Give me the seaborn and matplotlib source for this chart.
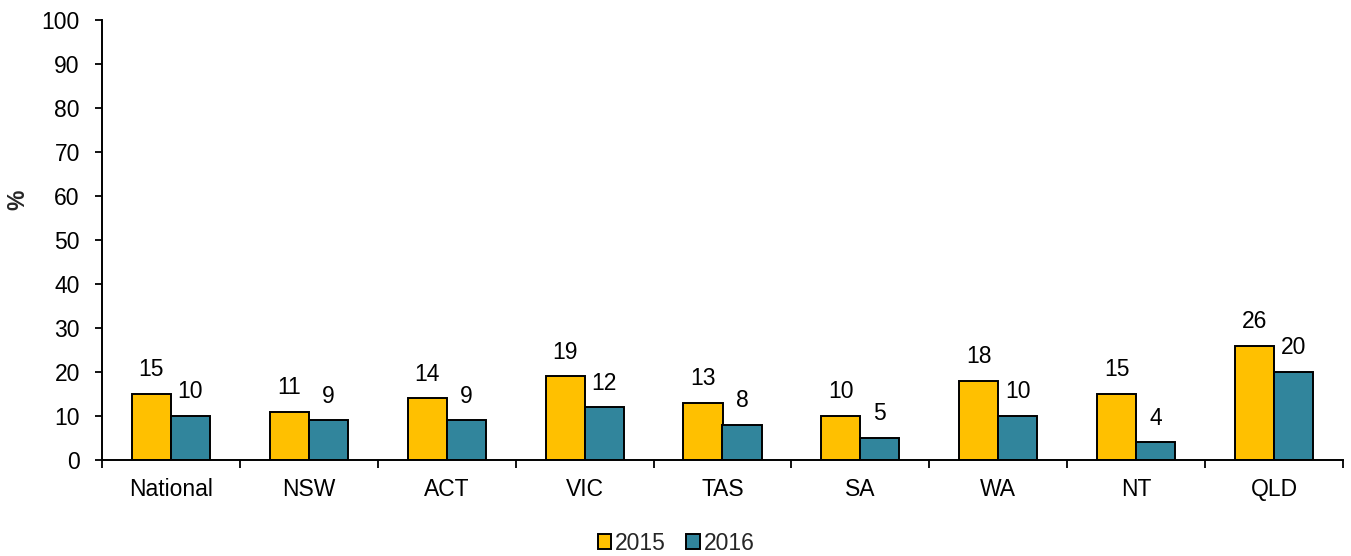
import matplotlib
matplotlib.use("Agg")
import matplotlib.pyplot as plt
import seaborn as sns
import pandas as pd
import numpy as np
from matplotlib.ticker import FixedLocator

categories = ["National", "NSW", "ACT", "VIC", "TAS", "SA", "WA", "NT", "QLD"]
years = ["2015", "2016"]
values_2015 = [15, 11, 14, 19, 13, 10, 18, 15, 26]
values_2016 = [10, 9, 9, 12, 8, 5, 10, 4, 20]
colors = ["#FFC000", "#31859C"]

sns.set_theme(style="white")
plt.rcParams['font.family'] = ['Liberation Sans', 'DejaVu Sans']
FS = 16.5

df = pd.DataFrame({
    "Region": categories * 2,
    "Year": [years[0]] * len(categories) + [years[1]] * len(categories),
    "Value": values_2015 + values_2016,
})

fig = plt.figure(figsize=(13.51, 5.56), dpi=100)
ax = fig.add_axes([102/1351, 1 - 460/556, (1343-102)/1351, (460-20)/556])

sns.barplot(data=df, x="Region", y="Value", hue="Year", order=categories,
            hue_order=years, palette=colors, width=0.566, gap=0,
            edgecolor="black", linewidth=1.4, ax=ax, saturation=1)

for cont in ax.containers:
    ax.bar_label(cont, fmt="%g", padding=9, fontsize=FS, color="black")

ax.set_ylim(0, 100)
ax.set_xlim(-0.5, len(categories) - 0.5)
ax.set_yticks(np.arange(0, 101, 10))
ax.tick_params(axis="y", labelsize=FS, length=5, width=1.3, direction="out",
               left=True, colors="black", pad=11)
ax.tick_params(axis="x", which="major", length=0, labelsize=FS, pad=13, colors="black")
ax.xaxis.set_minor_locator(FixedLocator(np.arange(-0.5, len(categories), 1.0)))
ax.tick_params(axis="x", which="minor", length=6, width=1.3, direction="out",
               bottom=True, colors="black")
for s in ["top", "right"]:
    ax.spines[s].set_visible(False)
for s in ["left", "bottom"]:
    ax.spines[s].set_color("black")
    ax.spines[s].set_linewidth(1.4)
ax.set_xlabel("")
ax.set_ylabel("")
fig.text(18/1351, 1 - 200/556, "%", rotation=90, fontsize=FS, fontweight="bold",
         ha="center", va="center")

handles, labels = ax.get_legend_handles_labels()
ax.get_legend().remove()
fig.legend(handles, labels, loc="center", bbox_to_anchor=(676/1351, 1 - 543/556),
           ncol=2, frameon=False, fontsize=FS, handlelength=0.6, handleheight=0.6,
           handletextpad=0.15, columnspacing=0.9, borderaxespad=0)

fig.savefig("out.png", dpi=100)
